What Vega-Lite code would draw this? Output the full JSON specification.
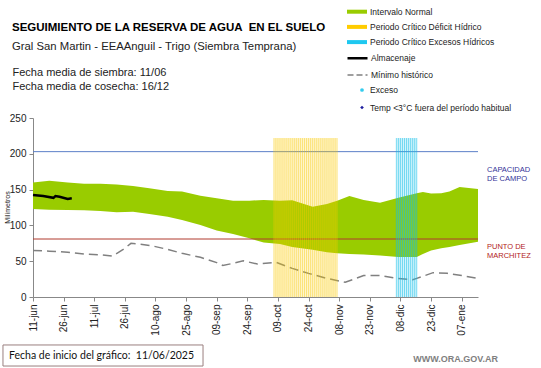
{
 "$schema": "https://vega.github.io/schema/vega-lite/v6.json",
 "width": 445, "height": 179,
 "autosize": {"type": "none"},
 "padding": {"left": 33, "top": 118, "right": 63, "bottom": 71},
 "background": "white",
 "config": {
  "view": {"stroke": null}, "font": "Liberation Sans",
  "axis": {"labelOverlap": false, "labelBound": false}
 },
 "title": {
  "text": "SEGUIMIENTO DE LA RESERVA DE AGUA \u00a0EN EL SUELO",
  "subtitle": "Gral San Martin - EEAAnguil - Trigo (Siembra Temprana)",
  "anchor": "start", "frame": "group", "dx": -21, "offset": -50.6,
  "font": "Liberation Sans", "fontSize": 11.5, "fontWeight": "bold", "color": "#000",
  "subtitleFont": "Liberation Sans", "subtitleFontSize": 11.3, "subtitleColor": "#222",
  "subtitlePadding": 8
 },
 "datasets": {
  "normal": [
   {"d": "2025-06-11", "lo": 123, "hi": 160},
   {"d": "2025-06-19", "lo": 122, "hi": 162.5},
   {"d": "2025-06-28", "lo": 121.5, "hi": 160},
   {"d": "2025-07-06", "lo": 121, "hi": 158},
   {"d": "2025-07-14", "lo": 120, "hi": 158},
   {"d": "2025-07-22", "lo": 118.5, "hi": 157},
   {"d": "2025-07-30", "lo": 119, "hi": 155},
   {"d": "2025-08-07", "lo": 116, "hi": 152},
   {"d": "2025-08-16", "lo": 112, "hi": 148},
   {"d": "2025-08-23", "lo": 107.5, "hi": 147.5},
   {"d": "2025-09-01", "lo": 100.5, "hi": 141.5},
   {"d": "2025-09-09", "lo": 93, "hi": 138},
   {"d": "2025-09-17", "lo": 88, "hi": 134.5},
   {"d": "2025-09-25", "lo": 82, "hi": 134.5},
   {"d": "2025-10-02", "lo": 76, "hi": 135.5},
   {"d": "2025-10-10", "lo": 74, "hi": 134.5},
   {"d": "2025-10-16", "lo": 70, "hi": 135},
   {"d": "2025-10-26", "lo": 66, "hi": 126},
   {"d": "2025-11-02", "lo": 62.5, "hi": 130},
   {"d": "2025-11-07", "lo": 61, "hi": 134.5},
   {"d": "2025-11-13", "lo": 60, "hi": 141},
   {"d": "2025-11-20", "lo": 59.5, "hi": 135.5},
   {"d": "2025-11-28", "lo": 58, "hi": 131.7},
   {"d": "2025-12-07", "lo": 56, "hi": 138.5},
   {"d": "2025-12-16", "lo": 56, "hi": 145},
   {"d": "2025-12-19", "lo": 60, "hi": 146.5},
   {"d": "2025-12-23", "lo": 65, "hi": 144.5},
   {"d": "2025-12-28", "lo": 68, "hi": 145},
   {"d": "2026-01-01", "lo": 70, "hi": 147.5},
   {"d": "2026-01-06", "lo": 72.5, "hi": 153.5},
   {"d": "2026-01-15", "lo": 77, "hi": 151}
  ],
  "lineas": [
   {"serie": "Almacenaje", "d": "2025-06-11", "v": 142.5},
   {"serie": "Almacenaje", "d": "2025-06-16", "v": 141},
   {"serie": "Almacenaje", "d": "2025-06-21", "v": 138.5},
   {"serie": "Almacenaje", "d": "2025-06-22", "v": 141},
   {"serie": "Almacenaje", "d": "2025-06-24", "v": 140},
   {"serie": "Almacenaje", "d": "2025-06-28", "v": 137},
   {"serie": "Almacenaje", "d": "2025-06-30", "v": 138},
   {"serie": "Mínimo histórico", "d": "2025-06-11", "v": 65},
   {"serie": "Mínimo histórico", "d": "2025-06-19", "v": 64},
   {"serie": "Mínimo histórico", "d": "2025-06-28", "v": 62.5},
   {"serie": "Mínimo histórico", "d": "2025-07-06", "v": 60},
   {"serie": "Mínimo histórico", "d": "2025-07-14", "v": 59},
   {"serie": "Mínimo histórico", "d": "2025-07-20", "v": 57},
   {"serie": "Mínimo histórico", "d": "2025-07-25", "v": 66},
   {"serie": "Mínimo histórico", "d": "2025-07-29", "v": 75},
   {"serie": "Mínimo histórico", "d": "2025-08-02", "v": 74},
   {"serie": "Mínimo histórico", "d": "2025-08-09", "v": 71},
   {"serie": "Mínimo histórico", "d": "2025-08-16", "v": 66.5},
   {"serie": "Mínimo histórico", "d": "2025-08-23", "v": 61},
   {"serie": "Mínimo histórico", "d": "2025-09-01", "v": 55.5},
   {"serie": "Mínimo histórico", "d": "2025-09-09", "v": 48},
   {"serie": "Mínimo histórico", "d": "2025-09-12", "v": 44},
   {"serie": "Mínimo histórico", "d": "2025-09-17", "v": 47},
   {"serie": "Mínimo histórico", "d": "2025-09-22", "v": 50.5},
   {"serie": "Mínimo histórico", "d": "2025-09-29", "v": 46},
   {"serie": "Mínimo histórico", "d": "2025-10-08", "v": 48.5},
   {"serie": "Mínimo histórico", "d": "2025-10-16", "v": 40},
   {"serie": "Mínimo histórico", "d": "2025-10-24", "v": 33},
   {"serie": "Mínimo histórico", "d": "2025-11-02", "v": 26},
   {"serie": "Mínimo histórico", "d": "2025-11-11", "v": 20.5},
   {"serie": "Mínimo histórico", "d": "2025-11-20", "v": 30},
   {"serie": "Mínimo histórico", "d": "2025-11-28", "v": 30},
   {"serie": "Mínimo histórico", "d": "2025-12-06", "v": 26},
   {"serie": "Mínimo histórico", "d": "2025-12-14", "v": 24},
   {"serie": "Mínimo histórico", "d": "2025-12-16", "v": 26},
   {"serie": "Mínimo histórico", "d": "2025-12-24", "v": 34},
   {"serie": "Mínimo histórico", "d": "2025-12-31", "v": 33},
   {"serie": "Mínimo histórico", "d": "2026-01-07", "v": 30},
   {"serie": "Mínimo histórico", "d": "2026-01-15", "v": 26}
  ],
  "puntos": [],
  "periodos": [
   {"serie": "Periodo Crítico Déficit Hídrico", "start": "2025-10-07", "end": "2025-11-07"},
   {"serie": "Periodo Crítico Excesos Hídricos", "start": "2025-12-06", "end": "2025-12-16"}
  ],
  "dias": [
   {"serie": "Periodo Crítico Déficit Hídrico", "d": "2025-10-07"},
   {"serie": "Periodo Crítico Déficit Hídrico", "d": "2025-10-08"},
   {"serie": "Periodo Crítico Déficit Hídrico", "d": "2025-10-09"},
   {"serie": "Periodo Crítico Déficit Hídrico", "d": "2025-10-10"},
   {"serie": "Periodo Crítico Déficit Hídrico", "d": "2025-10-11"},
   {"serie": "Periodo Crítico Déficit Hídrico", "d": "2025-10-12"},
   {"serie": "Periodo Crítico Déficit Hídrico", "d": "2025-10-13"},
   {"serie": "Periodo Crítico Déficit Hídrico", "d": "2025-10-14"},
   {"serie": "Periodo Crítico Déficit Hídrico", "d": "2025-10-15"},
   {"serie": "Periodo Crítico Déficit Hídrico", "d": "2025-10-16"},
   {"serie": "Periodo Crítico Déficit Hídrico", "d": "2025-10-17"},
   {"serie": "Periodo Crítico Déficit Hídrico", "d": "2025-10-18"},
   {"serie": "Periodo Crítico Déficit Hídrico", "d": "2025-10-19"},
   {"serie": "Periodo Crítico Déficit Hídrico", "d": "2025-10-20"},
   {"serie": "Periodo Crítico Déficit Hídrico", "d": "2025-10-21"},
   {"serie": "Periodo Crítico Déficit Hídrico", "d": "2025-10-22"},
   {"serie": "Periodo Crítico Déficit Hídrico", "d": "2025-10-23"},
   {"serie": "Periodo Crítico Déficit Hídrico", "d": "2025-10-24"},
   {"serie": "Periodo Crítico Déficit Hídrico", "d": "2025-10-25"},
   {"serie": "Periodo Crítico Déficit Hídrico", "d": "2025-10-26"},
   {"serie": "Periodo Crítico Déficit Hídrico", "d": "2025-10-27"},
   {"serie": "Periodo Crítico Déficit Hídrico", "d": "2025-10-28"},
   {"serie": "Periodo Crítico Déficit Hídrico", "d": "2025-10-29"},
   {"serie": "Periodo Crítico Déficit Hídrico", "d": "2025-10-30"},
   {"serie": "Periodo Crítico Déficit Hídrico", "d": "2025-10-31"},
   {"serie": "Periodo Crítico Déficit Hídrico", "d": "2025-11-01"},
   {"serie": "Periodo Crítico Déficit Hídrico", "d": "2025-11-02"},
   {"serie": "Periodo Crítico Déficit Hídrico", "d": "2025-11-03"},
   {"serie": "Periodo Crítico Déficit Hídrico", "d": "2025-11-04"},
   {"serie": "Periodo Crítico Déficit Hídrico", "d": "2025-11-05"},
   {"serie": "Periodo Crítico Déficit Hídrico", "d": "2025-11-06"},
   {"serie": "Periodo Crítico Déficit Hídrico", "d": "2025-11-07"},
   {"serie": "Periodo Crítico Excesos Hídricos", "d": "2025-12-06"},
   {"serie": "Periodo Crítico Excesos Hídricos", "d": "2025-12-07"},
   {"serie": "Periodo Crítico Excesos Hídricos", "d": "2025-12-08"},
   {"serie": "Periodo Crítico Excesos Hídricos", "d": "2025-12-09"},
   {"serie": "Periodo Crítico Excesos Hídricos", "d": "2025-12-10"},
   {"serie": "Periodo Crítico Excesos Hídricos", "d": "2025-12-11"},
   {"serie": "Periodo Crítico Excesos Hídricos", "d": "2025-12-12"},
   {"serie": "Periodo Crítico Excesos Hídricos", "d": "2025-12-13"},
   {"serie": "Periodo Crítico Excesos Hídricos", "d": "2025-12-14"},
   {"serie": "Periodo Crítico Excesos Hídricos", "d": "2025-12-15"},
   {"serie": "Periodo Crítico Excesos Hídricos", "d": "2025-12-16"}
  ],
  "refs": [
   {"name": "Capacidad de campo", "v": 203, "label": ["CAPACIDAD", "DE  CAMPO"]},
   {"name": "Punto de marchitez", "v": 81, "label": ["PUNTO  DE", "MARCHITEZ"]}
  ],
  "footer": [
   {"t": "Fecha de inicio del gráfico: \u00a011/06/2025"}
  ],
  "web": [
   {"t": "WWW.ORA.GOV.AR"}
  ]
 },
 "layer": [
  {
   "data": {"name": "normal"},
   "mark": {"type": "area", "opacity": 1},
   "encoding": {
    "x": {"field": "d", "type": "temporal",
     "scale": {"type": "utc", "domain": [{"year": 2025, "month": 6, "date": 11, "utc": true}, {"year": 2026, "month": 1, "date": 15, "utc": true}]},
     "axis": {
      "values": [
       {"year": 2025, "month": 6, "date": 11, "utc": true},
       {"year": 2025, "month": 6, "date": 26, "utc": true},
       {"year": 2025, "month": 7, "date": 11, "utc": true},
       {"year": 2025, "month": 7, "date": 26, "utc": true},
       {"year": 2025, "month": 8, "date": 10, "utc": true},
       {"year": 2025, "month": 8, "date": 25, "utc": true},
       {"year": 2025, "month": 9, "date": 9, "utc": true},
       {"year": 2025, "month": 9, "date": 24, "utc": true},
       {"year": 2025, "month": 10, "date": 9, "utc": true},
       {"year": 2025, "month": 10, "date": 24, "utc": true},
       {"year": 2025, "month": 11, "date": 8, "utc": true},
       {"year": 2025, "month": 11, "date": 23, "utc": true},
       {"year": 2025, "month": 12, "date": 8, "utc": true},
       {"year": 2025, "month": 12, "date": 23, "utc": true},
       {"year": 2026, "month": 1, "date": 7, "utc": true}
      ],
      "tickCount": 40,
      "labelExpr": "utcFormat(datum.value, '%d') + '-' + ['ene','feb','mar','abr','may','jun','jul','ago','sep','oct','nov','dic'][utcmonth(datum.value)]",
      "labelAngle": 270, "labelAlign": "right", "labelBaseline": "middle",
      "labelFont": "Liberation Sans", "labelFontSize": 10, "labelColor": "#222",
      "tickSize": 4, "tickColor": "#888", "domainColor": "#888", "labelPadding": 3,
      "grid": false, "labelOverlap": false, "labelBound": false, "labelFlush": false,
      "title": ["Fecha media de siembra: 11/06", "Fecha media de cosecha: 16/12"],
      "titleFont": "Liberation Sans", "titleFontSize": 11, "titleFontWeight": "normal", "titleColor": "#222",
      "titleAnchor": "start", "titleAlign": "left", "titleBaseline": "top", "titleAngle": 0,
      "titleX": -21, "titleY": -231, "titleLineHeight": 14
     }
    },
    "y": {"field": "lo", "type": "quantitative",
     "scale": {"domain": [0, 250], "nice": false, "zero": true},
     "axis": {
      "values": [0, 50, 100, 150, 200, 250], "tickCount": 20, "labelOverlap": false, "labelBound": false,
      "labelFont": "Liberation Sans", "labelFontSize": 10, "labelColor": "#222",
      "tickSize": 4, "tickColor": "#888", "domainColor": "#888", "labelPadding": 3,
      "grid": false, "title": "Milímetros", "titleFont": "Liberation Sans", "titleFontSize": 7,
      "titleFontWeight": "normal", "titleColor": "#222", "titleAngle": 270,
      "titleX": -26, "titleY": 89, "titleAlign": "center", "titleBaseline": "middle"
     }
    },
    "y2": {"field": "hi"},
    "fill": {"datum": "Intervalo Normal", "type": "nominal",
     "scale": {
      "domain": ["Intervalo Normal", "Periodo Crítico Déficit Hídrico", "Periodo Crítico Excesos Hídricos"],
      "range": ["#99cc00", "#ffcc00", "#1ec8f0"]
     },
     "legend": {
      "orient": "none", "legendX": 314, "legendY": -116.3, "title": null, "padding": 0,
      "labelFont": "Liberation Sans", "labelFontSize": 8.5, "labelColor": "#222", "labelOffset": 3,
      "rowPadding": 0.2, "symbolSize": 400, "symbolStrokeWidth": 0, "symbolOpacity": 1,
      "symbolType": "M-1,-0.2H1V0.2H-1Z"
     }
    }
   }
  },
  {
   "data": {"name": "refs"},
   "transform": [{"filter": "datum.name == 'Capacidad de campo'"}],
   "mark": {"type": "rule", "strokeWidth": 1, "color": "#5b7fc7"},
   "encoding": {"y": {"field": "v", "type": "quantitative"}}
  },
  {
   "data": {"name": "refs"},
   "transform": [{"filter": "datum.name == 'Punto de marchitez'"}],
   "mark": {"type": "rule", "strokeWidth": 1, "color": "#b03a2e"},
   "encoding": {"y": {"field": "v", "type": "quantitative"}}
  },
  {
   "data": {"name": "lineas"},
   "transform": [{"filter": "datum.serie == 'Mínimo histórico'"}],
   "mark": {"type": "line", "strokeWidth": 1.5, "strokeDash": [9, 5], "color": "#808080"},
   "encoding": {
    "x": {"field": "d", "type": "temporal"},
    "y": {"field": "v", "type": "quantitative"}
   }
  },
  {
   "data": {"name": "periodos"},
   "mark": {"type": "rect", "opacity": 0.2},
   "encoding": {
    "x": {"field": "start", "type": "temporal"},
    "x2": {"field": "end"},
    "y": {"datum": 222, "type": "quantitative"},
    "y2": {"datum": 0},
    "fill": {"field": "serie", "type": "nominal", "legend": null}
   }
  },
  {
   "data": {"name": "dias"},
   "transform": [{"filter": "datum.serie == 'Periodo Crítico Déficit Hídrico'"}],
   "mark": {"type": "rule", "strokeWidth": 1, "opacity": 0.42, "color": "#f5c800"},
   "encoding": {
    "x": {"field": "d", "type": "temporal"},
    "y": {"datum": 222, "type": "quantitative"},
    "y2": {"datum": 0}
   }
  },
  {
   "data": {"name": "dias"},
   "transform": [{"filter": "datum.serie == 'Periodo Crítico Excesos Hídricos'"}],
   "mark": {"type": "rule", "strokeWidth": 1, "opacity": 0.5, "color": "#10bde8"},
   "encoding": {
    "x": {"field": "d", "type": "temporal"},
    "y": {"datum": 222, "type": "quantitative"},
    "y2": {"datum": 0}
   }
  },
  {
   "data": {"name": "lineas"},
   "transform": [{"filter": "datum.serie == 'Almacenaje'"}],
   "mark": {"type": "line", "strokeWidth": 2.5, "color": "#000000"},
   "encoding": {
    "x": {"field": "d", "type": "temporal"},
    "y": {"field": "v", "type": "quantitative"}
   }
  },
  {
   "data": {"name": "lineas"},
   "mark": {"type": "line", "opacity": 0},
   "encoding": {
    "x": {"field": "d", "type": "temporal"},
    "y": {"field": "v", "type": "quantitative"},
    "stroke": {"field": "serie", "type": "nominal",
     "scale": {"domain": ["Almacenaje", "Mínimo histórico"], "range": ["#000000", "#808080"]},
     "legend": {
      "orient": "none", "legendX": 313, "legendY": -71.3, "title": null, "padding": 0,
      "labelFont": "Liberation Sans", "labelFontSize": 8.5, "labelColor": "#222", "labelOffset": 2,
      "rowPadding": 0.2, "symbolSize": 400, "symbolType": "stroke", "symbolOpacity": 1
     }
    },
    "strokeDash": {"field": "serie", "type": "nominal",
     "scale": {"domain": ["Almacenaje", "Mínimo histórico"], "range": [[1, 0], [6, 3]]},
     "legend": {
      "orient": "none", "legendX": 313, "legendY": -71.3, "title": null, "padding": 0,
      "labelFont": "Liberation Sans", "labelFontSize": 8.5, "labelColor": "#222", "labelOffset": 2,
      "rowPadding": 0.2, "symbolSize": 400, "symbolType": "stroke", "symbolOpacity": 1
     }
    },
    "strokeWidth": {"field": "serie", "type": "nominal",
     "scale": {"domain": ["Almacenaje", "Mínimo histórico"], "range": [2.5, 1.5]},
     "legend": {
      "orient": "none", "legendX": 313, "legendY": -71.3, "title": null, "padding": 0,
      "labelFont": "Liberation Sans", "labelFontSize": 8.5, "labelColor": "#222", "labelOffset": 2,
      "rowPadding": 0.2, "symbolSize": 400, "symbolType": "stroke", "symbolOpacity": 1
     }
    }
   }
  },
  {
   "data": {"name": "puntos"},
   "mark": {"type": "point", "filled": true, "size": 14},
   "encoding": {
    "x": {"field": "d", "type": "temporal"},
    "y": {"field": "v", "type": "quantitative"},
    "color": {"field": "serie", "type": "nominal",
     "scale": {"domain": ["Exceso", "Temp <3°C fuera del período habitual"], "range": ["#33ccee", "#1f1f9f"]},
     "legend": {
      "orient": "none", "legendX": 324.75, "legendY": -32.25, "title": null, "padding": 0,
      "labelFont": "Liberation Sans", "labelFontSize": 8.5, "labelColor": "#222", "labelOffset": 3.75,
      "rowPadding": 6.5, "symbolSize": 14, "symbolOpacity": 1
     }
    },
    "shape": {"field": "serie", "type": "nominal",
     "scale": {"domain": ["Exceso", "Temp <3°C fuera del período habitual"], "range": ["circle", "diamond"]},
     "legend": {
      "orient": "none", "legendX": 324.75, "legendY": -32.25, "title": null, "padding": 0,
      "labelFont": "Liberation Sans", "labelFontSize": 8.5, "labelColor": "#222", "labelOffset": 3.75,
      "rowPadding": 6.5, "symbolSize": 14, "symbolOpacity": 1
     }
    }
   }
  },
  {
   "data": {"name": "refs"},
   "transform": [{"filter": "datum.name == 'Capacidad de campo'"}],
   "mark": {"type": "text", "align": "left", "baseline": "top", "dx": 9, "dy": 14, "fontSize": 7.5, "lineHeight": 9, "fill": "#333399", "font": "Liberation Sans"},
   "encoding": {
    "x": {"datum": {"year": 2026, "month": 1, "date": 15, "utc": true}, "type": "temporal"},
    "y": {"field": "v", "type": "quantitative"},
    "text": {"field": "label"}
   }
  },
  {
   "data": {"name": "refs"},
   "transform": [{"filter": "datum.name == 'Punto de marchitez'"}],
   "mark": {"type": "text", "align": "left", "baseline": "top", "dx": 9, "dy": 4, "fontSize": 7.5, "lineHeight": 9, "fill": "#b22222", "font": "Liberation Sans"},
   "encoding": {
    "x": {"datum": {"year": 2026, "month": 1, "date": 15, "utc": true}, "type": "temporal"},
    "y": {"field": "v", "type": "quantitative"},
    "text": {"field": "label"}
   }
  },
  {
   "data": {"name": "footer"},
   "mark": {"type": "rect", "fill": "white", "stroke": "#9a7f7f", "strokeWidth": 1},
   "encoding": {
    "x": {"datum": {"year": 2025, "month": 5, "date": 27, "hours": 7, "utc": true}, "type": "temporal"},
    "x2": {"datum": {"year": 2025, "month": 9, "date": 2, "hours": 7, "utc": true}},
    "y": {"datum": -67, "type": "quantitative"},
    "y2": {"datum": -96.4}
   }
  },
  {
   "data": {"name": "footer"},
   "mark": {"type": "text", "align": "left", "baseline": "middle", "font": "Lato", "fontSize": 10.5, "fill": "#111"},
   "encoding": {
    "x": {"datum": {"year": 2025, "month": 5, "date": 30, "hours": 6, "utc": true}, "type": "temporal"},
    "y": {"datum": -82, "type": "quantitative"},
    "text": {"field": "t"}
   }
  },
  {
   "data": {"name": "web"},
   "mark": {"type": "text", "align": "right", "baseline": "middle", "font": "Liberation Sans", "fontSize": 9, "fontWeight": "bold", "fill": "#808080"},
   "encoding": {
    "x": {"datum": {"year": 2026, "month": 1, "date": 24, "hours": 19, "utc": true}, "type": "temporal"},
    "y": {"datum": -86.5, "type": "quantitative"},
    "text": {"field": "t"}
   }
  }
 ]
}
